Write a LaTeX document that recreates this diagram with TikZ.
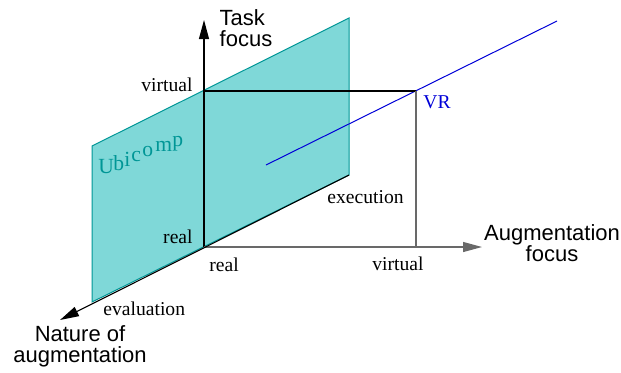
\documentclass[tikz,border=0pt]{standalone}
\usepackage{fontspec}
\setmainfont{Liberation Serif}
\setsansfont{Liberation Sans}
\usepackage{tikz}
\usetikzlibrary{arrows.meta,positioning}
\definecolor{planefill}{RGB}{127,216,216}
\definecolor{planeedge}{RGB}{0,150,150}
\definecolor{axisgray}{RGB}{105,105,105}
\definecolor{vrblue}{RGB}{0,0,215}
\tikzset{
  axisline/.style={line width=0.55pt},
  axisarrow/.style={axisline, -{Triangle[length=9.5pt, width=5pt]}},
  lbl/.style={inner sep=0pt, font=\fontsize{9.8}{11}\selectfont},
  axislabel/.style={inner sep=0pt, align=center, font=\sffamily\fontsize{11}{10.5}\selectfont},
}

\begin{document}
\begin{tikzpicture}[x=0.5pt, y=-0.5pt]
    \useasboundingbox (0,0) rectangle (621,372);
    % Axis points
    \coordinate (O) at (204,247);
    \coordinate (taskend) at (204,20);
    \coordinate (augend) at (482,247);
    \coordinate (natend) at (60,320);
    \coordinate (execend) at (349,175);
    \coordinate (TV) at (204,91);
    \coordinate (VR) at (416,91);
    \coordinate (AV) at (416,247);
    % Ubicomp plane
    \filldraw[fill=planefill, draw=planeedge, line width=0.5pt] (92,146) -- (349,18) -- (execend) -- (92,302) -- cycle;
    \foreach \ch/\x/\y in {U/98/173, b/113/170, i/124/166, c/131/161, o/142/156, m/155/151, p/172/146}
      \node[inner sep=0pt, anchor=base west, text=planeedge, font=\fontsize{10.8}{12}\selectfont] (ubi\ch) at (\x,\y) {\ch};
    % VR line
    \coordinate (vrstart) at (266,165);
    \coordinate (vrend) at (557,21);
    \draw[vrblue, line width=0.5pt] (vrstart) -- (vrend);
    % Draw axes
    \draw[axisarrow] (O) -- (taskend);
    \draw[axisarrow, axisgray] (O) -- (augend);
    \draw[axisarrow] (execend) -- (natend);
    \draw[axisline] (TV) -- (VR);
    \draw[axisline, axisgray] (VR) -- (AV);
    % Axis labels
    \node[axislabel, align=left] (task) at (246,28) {Task\\focus};
    \node[axislabel] (aug) at (552,243) {Augmentation\\focus};
    \node[axislabel] (nat) at (80,346) {Nature of\\augmentation};
    % Tick labels
    \node[lbl, anchor=base east] (taskvirt) at (193,91) {virtual};
    \node[lbl, anchor=base east] (taskreal) at (193,243) {real};
    \node[lbl, anchor=base west] (augreal) at (209,271) {real};
    \node[lbl, anchor=base west] (augvirt) at (372,270) {virtual};
    \node[lbl, anchor=base west] (exec) at (327,203) {execution};
    \node[lbl, anchor=base west] (eval) at (103,315) {evaluation};
    \node[lbl, anchor=base west, text=vrblue] (vr) at (423,108) {VR};
\end{tikzpicture}
\end{document}
